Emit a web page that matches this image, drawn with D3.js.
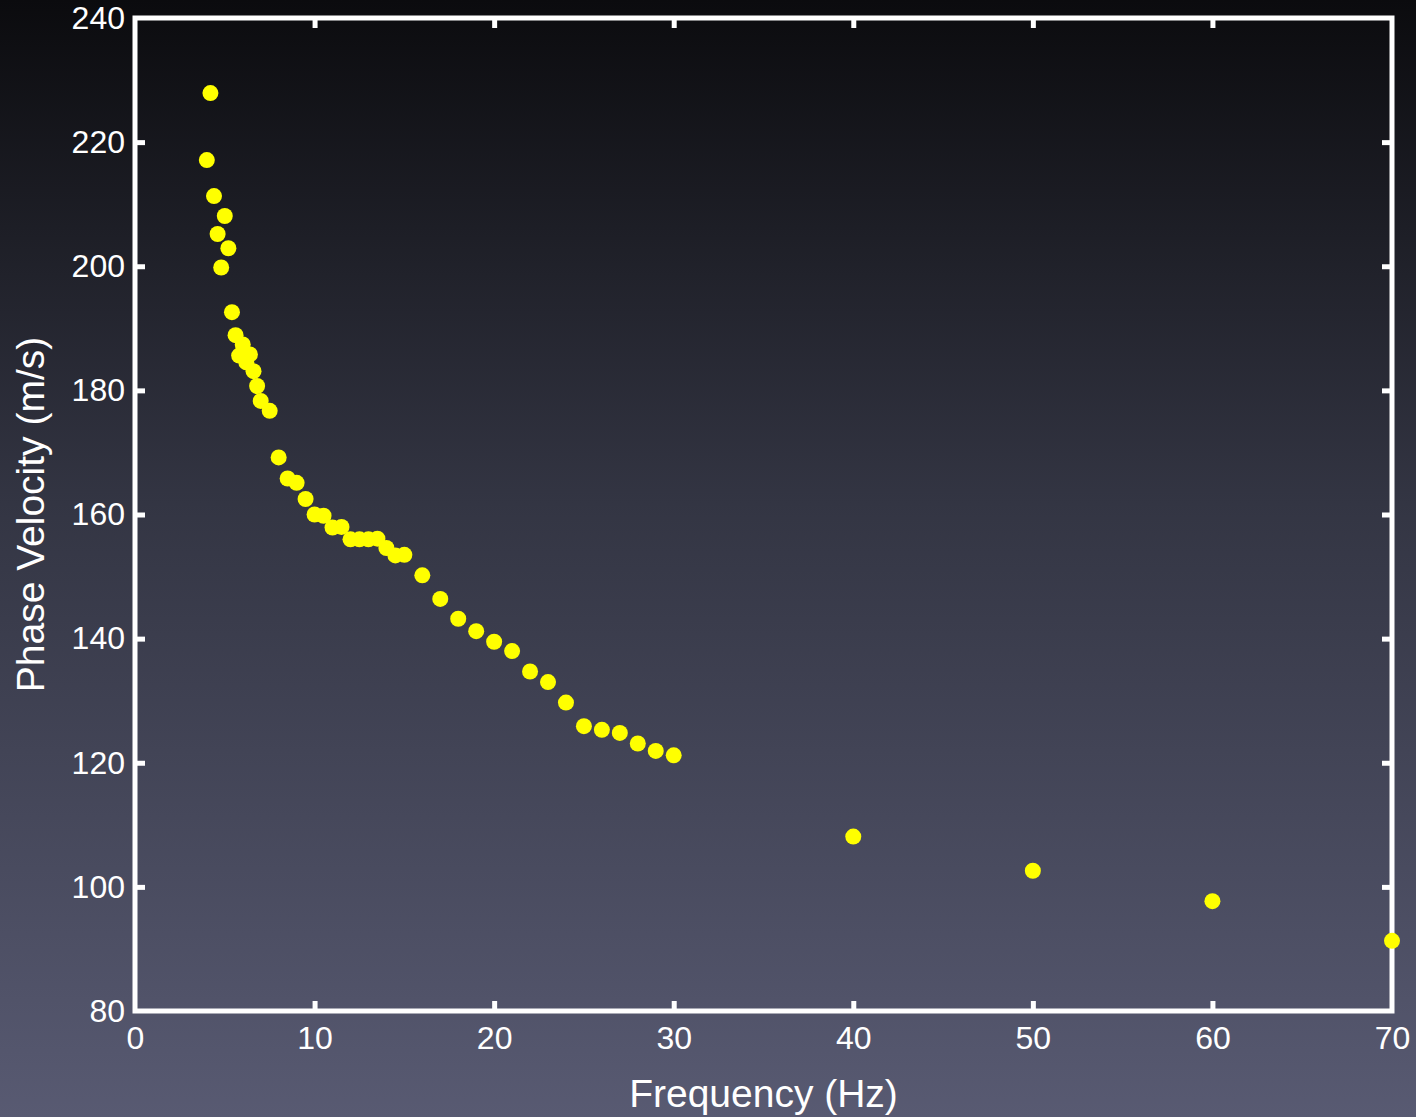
<!DOCTYPE html>
<html>
<head>
<meta charset="utf-8">
<script src="https://cdn.jsdelivr.net/npm/d3@7"></script>
<style>
  html, body { margin: 0; padding: 0; background: #000; }
  svg { display: block; }
  text { font-family: "Liberation Sans", Arial, Helvetica, sans-serif; fill: #fff; }
</style>
</head>
<body>
<div id="chart"></div>
<script>
// 주파수 (Hz) / 위상속도 (m/s) — 그림에서 읽은 값
const frequency = [
  4.0, 4.2, 4.4, 4.6, 4.8, 5.0, 5.2, 5.4, 5.6, 5.8, 6.0, 6.2, 6.4, 6.6, 6.8, 7.0, 7.5,
  8.0, 8.5, 9.0, 9.5, 10.0, 10.5, 11.0, 11.5, 12.0, 12.5, 13.0, 13.5, 14.0, 14.5, 15.0,
  16, 17, 18, 19, 20, 21, 22, 23, 24, 25, 26, 27, 28, 29, 30,
  40, 50, 60, 70
];
const phaseVelocity = [
  217.1, 227.9, 211.3, 205.2, 199.8, 208.1, 202.9, 192.6, 188.9, 185.6, 187.4, 184.5, 185.8, 183.1, 180.7, 178.3, 176.7,
  169.2, 165.8, 165.1, 162.5, 160.0, 159.8, 157.9, 158.0, 156.0, 156.0, 156.0, 156.1, 154.6, 153.4, 153.5,
  150.2, 146.4, 143.2, 141.2, 139.5, 138.0, 134.7, 133.0, 129.7, 125.9, 125.3, 124.8, 123.1, 121.9, 121.2,
  108.1, 102.6, 97.7, 91.3
];
const xTicks = [0, 10, 20, 30, 40, 50, 60, 70];
const yTicks = [80, 100, 120, 140, 160, 180, 200, 220, 240];

const W = 1416, H = 1117;
const margin = { left: 135, right: 24, top: 18, bottom: 106 };
const innerW = W - margin.left - margin.right;
const innerH = H - margin.top - margin.bottom;

const svg = d3.select("#chart").append("svg")
  .attr("width", W)
  .attr("height", H)
  .attr("viewBox", `0 0 ${W} ${H}`);

// 배경 그라데이션
const grad = svg.append("defs").append("linearGradient")
  .attr("id", "bg").attr("x1", 0).attr("y1", 0).attr("x2", 0).attr("y2", 1);
grad.append("stop").attr("offset", "0%").attr("stop-color", "#0b0b0e");
grad.append("stop").attr("offset", "45%").attr("stop-color", "#333543");
grad.append("stop").attr("offset", "100%").attr("stop-color", "#585a72");
svg.append("rect").attr("width", W).attr("height", H).attr("fill", "url(#bg)");

const x = d3.scaleLinear().domain([0, 70]).range([0, innerW]);
const y = d3.scaleLinear().domain([80, 240]).range([innerH, 0]);

const g = svg.append("g").attr("transform", `translate(${margin.left},${margin.top})`);

const tickLen = 10;
function styleAxis(sel) {
  sel.select(".domain").remove();
  sel.selectAll(".tick line").attr("stroke", "#fff").attr("stroke-width", 5);
  sel.selectAll(".tick text").style("font-size", "32px").attr("fill", "#fff");
}

// 아래/위 축 (눈금은 안쪽으로)
g.append("g").attr("transform", `translate(0,${innerH})`)
  .call(d3.axisBottom(x).tickValues(xTicks).tickSize(-tickLen).tickPadding(15).tickFormat(d3.format("d")))
  .call(styleAxis)
  .call(s => s.selectAll(".tick").filter(d => d === 0 || d === 70).select("line").remove());
g.append("g")
  .call(d3.axisTop(x).tickValues(xTicks).tickSize(-tickLen).tickFormat(""))
  .call(styleAxis)
  .call(s => s.selectAll(".tick").filter(d => d === 0 || d === 70).select("line").remove());

// 왼쪽/오른쪽 축
g.append("g")
  .call(d3.axisLeft(y).tickValues(yTicks).tickSize(-tickLen).tickPadding(10).tickFormat(d3.format("d")))
  .call(styleAxis)
  .call(s => s.selectAll(".tick").filter(d => d === 80 || d === 240).select("line").remove());
g.append("g").attr("transform", `translate(${innerW},0)`)
  .call(d3.axisRight(y).tickValues(yTicks).tickSize(-tickLen).tickFormat(""))
  .call(styleAxis)
  .call(s => s.selectAll(".tick").filter(d => d === 80 || d === 240).select("line").remove());

// 테두리
g.append("rect")
  .attr("width", innerW).attr("height", innerH)
  .attr("fill", "none").attr("stroke", "#fff").attr("stroke-width", 5);

// 점
g.append("g").selectAll("circle")
  .data(frequency.map((f, i) => ({ f, v: phaseVelocity[i] })))
  .join("circle")
  .attr("cx", d => x(d.f))
  .attr("cy", d => y(d.v))
  .attr("r", 8)
  .attr("fill", "#ffff00");

// 축 제목
svg.append("text")
  .attr("x", margin.left + x(35))
  .attr("y", 1107)
  .attr("text-anchor", "middle")
  .style("font-size", "39px")
  .text("Frequency (Hz)");

svg.append("text")
  .attr("transform", `translate(44,${margin.top + innerH / 2}) rotate(-90)`)
  .attr("text-anchor", "middle")
  .style("font-size", "39px")
  .text("Phase Velocity (m/s)");
</script>
</body>
</html>
